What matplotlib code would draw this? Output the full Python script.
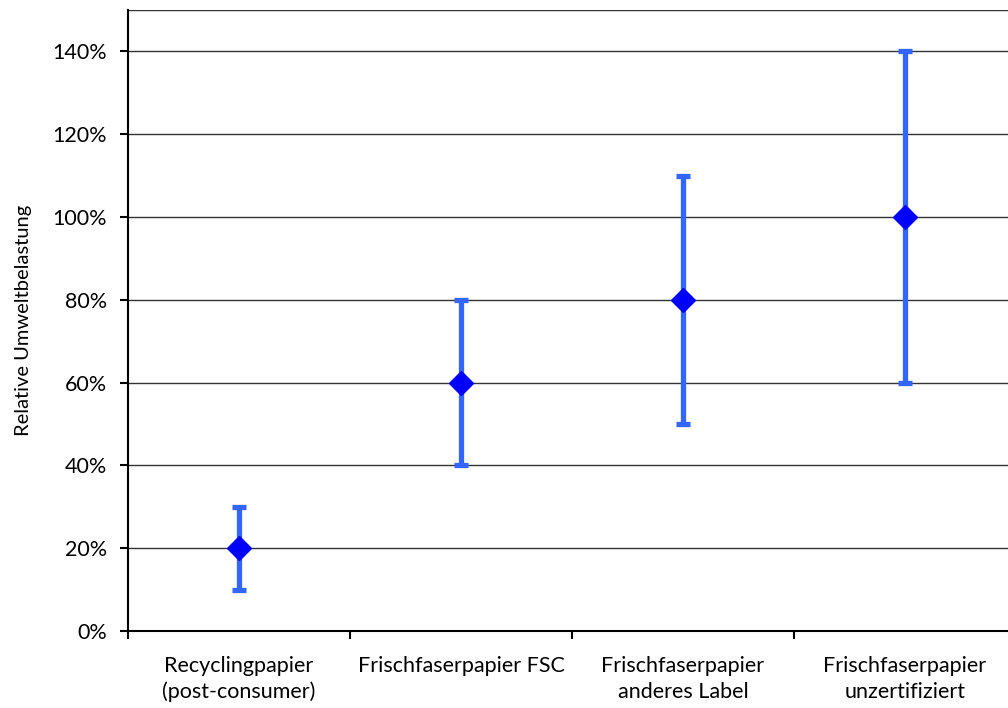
import matplotlib
matplotlib.use("Agg")
import matplotlib.pyplot as plt
import numpy as np

categories = ["Recyclingpapier\n(post-consumer)", "Frischfaserpapier FSC",
              "Frischfaserpapier\nanderes Label", "Frischfaserpapier\nunzertifiziert"]
values = [20, 60, 80, 100]
lower = [10, 40, 50, 60]
upper = [30, 80, 110, 140]

plt.rcParams['font.family'] = ['Lato', 'DejaVu Sans']

fig = plt.figure(figsize=(10.08, 7.08), dpi=100)
ax = fig.add_axes([128 / 1008, 1 - 631 / 708, 888 / 1008, 621 / 708])

x = np.arange(1, len(values) + 1)
vals = np.array(values)
yerr = [vals - np.array(lower), np.array(upper) - vals]
ax.errorbar(x, vals, yerr=yerr, fmt='none', ecolor='#3366ff', elinewidth=3.8,
            capsize=5, capthick=3.8, zorder=3)
ax.plot(x, vals, linestyle='none', marker='D', markersize=12, color='#0000ff', zorder=4)

ax.set_xlim(0.5, len(values) + 0.5)
ax.set_ylim(0, 150)
ax.set_yticks(range(0, 141, 20))
ax.set_yticklabels([f"{v}%" for v in range(0, 141, 20)], fontsize=15.5)
for v in list(range(20, 141, 20)) + [150]:
    ax.axhline(v, color='#333333', linewidth=1.0, zorder=1)

ax.set_xticks(np.arange(0.5, len(values) + 1, 1))
ax.set_xticklabels([])
ax.set_xticks(x, minor=True)
ax.set_xticklabels(categories, minor=True, fontsize=15.5, linespacing=1.35)
ax.tick_params(axis='x', which='minor', length=0, pad=18)
ax.tick_params(axis='y', which='major', pad=9)
ax.tick_params(axis='both', which='major', direction='out', length=6, width=1.5, color='black')

for side in ['top', 'right']:
    ax.spines[side].set_visible(False)
for side in ['left', 'bottom']:
    ax.spines[side].set_linewidth(1.5)

ax.set_ylabel("Relative Umweltbelastung", fontsize=14.5)
ax.yaxis.set_label_coords(-0.108, 0.5)

fig.savefig("out.png", dpi=100)
